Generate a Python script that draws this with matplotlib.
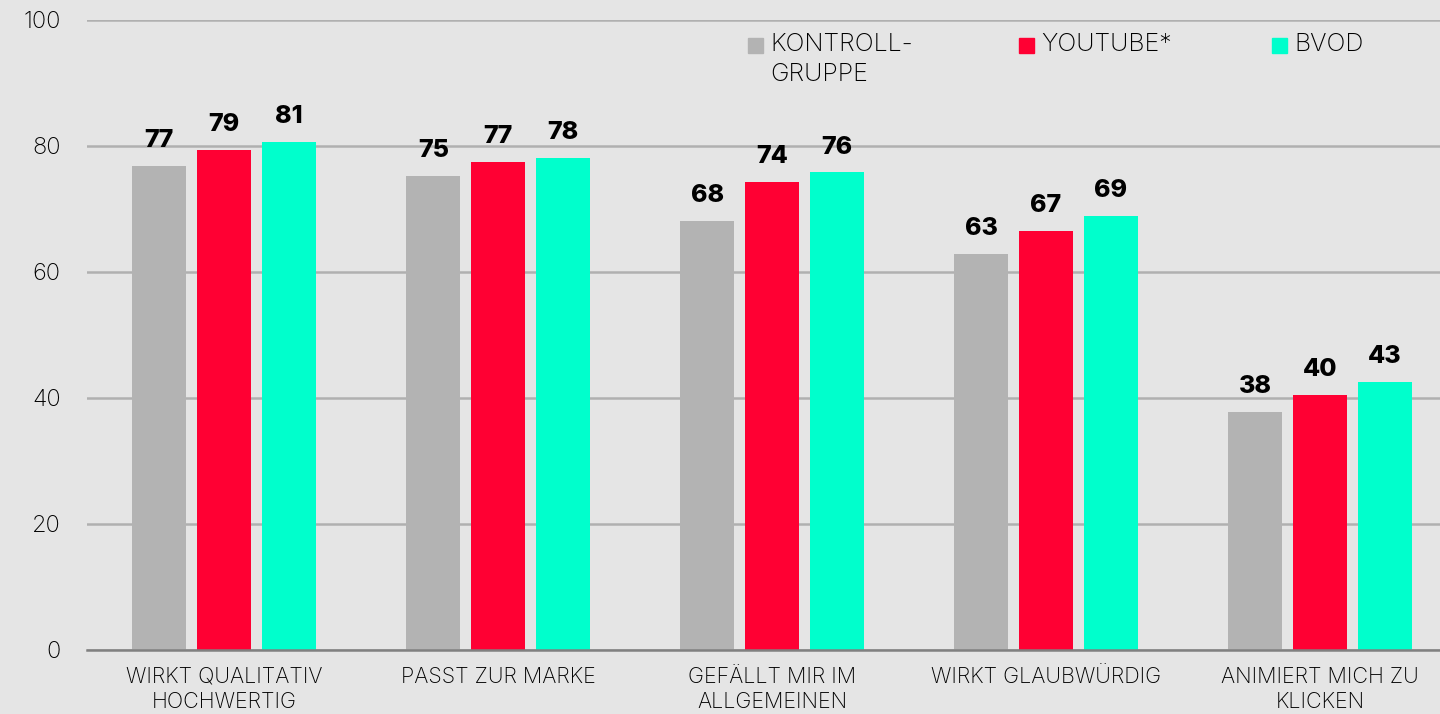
import matplotlib
matplotlib.use("Agg")
import matplotlib.pyplot as plt
import numpy as np

plt.rcParams["font.family"] = ["Inter", "DejaVu Sans"]

# daten (balkenhöhen aus der grafik geschätzt, labels gerundet)
categories = ["WIRKT QUALITATIV\nHOCHWERTIG", "PASST ZUR MARKE",
              "GEFÄLLT MIR IM\nALLGEMEINEN", "WIRKT GLAUBWÜRDIG",
              "ANIMIERT MICH ZU\nKLICKEN"]
series_names = ["KONTROLL-\nGRUPPE", "YOUTUBE*", "BVOD"]
kontroll = [76.8, 75.3, 68.1, 62.8, 37.8]
youtube = [79.4, 77.4, 74.3, 66.5, 40.5]
bvod = [80.6, 78.1, 75.8, 68.9, 42.5]
kontroll_lbl = [77, 75, 68, 63, 38]
youtube_lbl = [79, 77, 74, 67, 40]
bvod_lbl = [81, 78, 76, 69, 43]
yticks = [0, 20, 40, 60, 80, 100]

COLORS = ["#b3b3b3", "#ff0033", "#00ffcc"]
BG = "#e5e5e5"

fig = plt.figure(figsize=(14.4, 7.14), dpi=100, facecolor=BG)
ax = fig.add_axes([87/1440, 64/714, 1 - 87/1440, 630/714], facecolor=BG)

x = np.arange(len(categories))
w, pitch = 0.197, 0.236
vals = [kontroll, youtube, bvod]
lbls = [kontroll_lbl, youtube_lbl, bvod_lbl]
for i, (v, l, c) in enumerate(zip(vals, lbls, COLORS)):
    bars = ax.bar(x + (i - 1) * pitch, v, width=w, color=c, zorder=3)
    ax.bar_label(bars, labels=[str(n) for n in l], padding=10,
                 fontsize=18, fontweight="heavy", color="black")

ax.set_ylim(0, 100)
ax.set_xlim(-0.5, (1440 - 87) / 274 - 0.5)
ax.set_yticks(yticks)
ax.set_xticks(x)
ax.set_xticklabels(categories, fontsize=15.5, fontweight="light", linespacing=1.35)
ax.tick_params(axis="y", length=0, pad=19, labelsize=17)
ax.tick_params(axis="x", length=0, pad=12)
for t in ax.get_yticklabels():
    t.set_fontweight("light")
ax.grid(axis="y", color="#b0b0b0", lw=1.8, zorder=0)
for s in ["top", "right", "left"]:
    ax.spines[s].set_visible(False)
ax.spines["bottom"].set_color("#808080")
ax.spines["bottom"].set_linewidth(1.8)
ax.spines["bottom"].set_zorder(4)

# legende von hand (mehrzeiliger eintrag, quadrat an erster zeile)
leg_x = [748, 1019, 1272]
for name, c, px in zip(series_names, COLORS, leg_x):
    fig.patches.append(plt.Rectangle((px / 1440, 1 - 53 / 714), 15 / 1440, 15 / 714,
                                     transform=fig.transFigure, color=c))
    fig.text((px + 22) / 1440, 1 - 33 / 714, name, fontsize=18, fontweight="light",
             va="top", ha="left", linespacing=1.4)

fig.savefig("out.png", dpi=100, facecolor=BG)
